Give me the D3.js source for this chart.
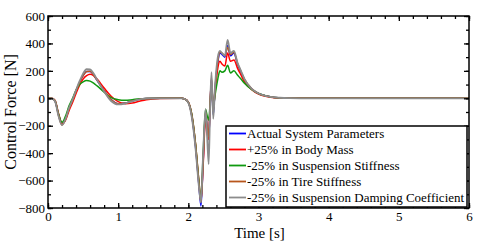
<!DOCTYPE html>
<html><head><meta charset="utf-8">
<script src="https://cdn.jsdelivr.net/npm/d3@7"></script>
<style>body{margin:0;background:#fff}svg{display:block}text{font-family:"Liberation Serif","Times New Roman",serif;fill:#000}</style>
</head><body>
<svg id="c" width="480" height="241"></svg>
<script>
const time = [0,0.05,0.1,0.15,0.2,0.25,0.3,0.35,0.4,0.45,0.5,0.55,0.6,0.65,0.7,0.8,0.9,1.0,1.1,1.2,1.3,1.4,1.6,1.9,1.95,2.0,2.05,2.1,2.15,2.18,2.21,2.245,2.27,2.29,2.31,2.33,2.355,2.38,2.42,2.45,2.48,2.52,2.56,2.6,2.65,2.7,2.75,2.8,2.9,3.0,3.1,3.2,3.3,3.45,3.6,3.75,6];
const actual = [0,0,-20,-120,-185,-150,-75,-15,55,115,165,195,195,170,130,55,-10,-40,-35,-20,-8,-2,0,0,-5,-30,-130,-340,-630,-785,-480,-110,-220,-300,-60,140,-120,60,260,330,320,300,385,310,330,250,190,135,70,35,18,8,4,1,0,0,0];
const bodyMass = [0,0,-15,-110,-185,-160,-90,-30,35,95,140,165,175,165,140,75,15,-25,-40,-35,-22,-10,-2,0,-5,-28,-120,-320,-600,-750,-500,-150,-260,-300,-40,120,-80,40,220,270,250,235,330,270,280,220,170,120,65,30,15,6,3,1,0,0,0];
const suspStiff = [0,0,-18,-115,-175,-130,-55,0,60,100,120,130,125,110,90,45,5,-10,-15,-10,-4,-1,0,0,-5,-30,-120,-320,-600,-740,-420,-80,-130,-160,-40,90,-60,20,140,200,190,200,240,185,200,170,140,110,65,35,18,8,4,1,0,0,0];
const tireStiff = [0,0,-20,-125,-195,-155,-75,-15,55,115,165,195,198,170,130,55,-10,-40,-35,-20,-8,-2,0,0,-5,-30,-130,-330,-620,-760,-470,-100,-210,-280,-50,150,-100,70,270,335,330,310,370,320,335,255,195,140,72,36,18,8,4,1,0,0,0];
const damping = [0,0,-22,-130,-195,-150,-70,-10,60,125,180,212,210,180,135,50,-20,-45,-38,-22,-8,-2,0,0,-5,-32,-140,-350,-640,-760,-420,-80,-300,-480,-80,190,-150,80,300,345,330,310,425,330,345,260,200,140,70,35,18,8,4,1,0,0,0];
const seriesNames = ["Actual System Parameters","+25% in Body Mass","-25% in Suspension Stiffness","-25% in Tire Stiffness","-25% in Suspension Damping Coefficient"];
const seriesValues = [actual, bodyMass, suspStiff, tireStiff, damping];
const colors = ["#0000ff","#ff0000","#109a10","#b8561c","#8c8c8c"];
const xTicks = [0,1,2,3,4,5,6];
const yTicks = [600,400,200,0,-200,-400,-600,-800];

const svg = d3.select("#c");
const L=48, R=469, T=16, B=208;
const x = d3.scaleLinear().domain([0,6]).range([L,R]);
const y = d3.scaleLinear().domain([-800,600]).range([B,T]);

const g = svg.append("g");
svg.append("clipPath").attr("id","cp").append("rect").attr("x",L).attr("y",T).attr("width",R-L).attr("height",B-T);
const line = d3.line().x((d,i)=>x(time[i])).y(d=>y(d)).curve(d3.curveMonotoneX);
seriesValues.forEach((vals,k)=>{
  g.append("path").datum(vals).attr("d",line).attr("fill","none")
   .attr("stroke",colors[k]).attr("stroke-width",k===4?1.8:1.5).attr("clip-path","url(#cp)");
});

const minorX = d3.range(0,6.001,0.2), minorY = d3.range(-800,601,100);
function addAxis(axisGen, tr){ return svg.append("g").attr("transform",tr).call(axisGen); }
const ax = [
  addAxis(d3.axisBottom(x).tickValues(minorX).tickSize(-3).tickFormat(""), `translate(0,${B})`),
  addAxis(d3.axisBottom(x).tickValues(xTicks).tickSize(-5).tickPadding(4).tickFormat(d3.format("d")), `translate(0,${B})`),
  addAxis(d3.axisTop(x).tickValues(minorX).tickSize(-3).tickFormat(""), `translate(0,${T})`),
  addAxis(d3.axisTop(x).tickValues(xTicks).tickSize(-5).tickFormat(""), `translate(0,${T})`),
  addAxis(d3.axisLeft(y).tickValues(minorY).tickSize(-3).tickFormat(""), `translate(${L},0)`),
  addAxis(d3.axisLeft(y).tickValues(yTicks).tickSize(-5).tickPadding(3).tickFormat(d3.format("d")), `translate(${L},0)`),
  addAxis(d3.axisRight(y).tickValues(minorY).tickSize(-3).tickFormat(""), `translate(${R},0)`),
  addAxis(d3.axisRight(y).tickValues(yTicks).tickSize(-5).tickFormat(""), `translate(${R},0)`)
];
ax.forEach(a=>{a.select(".domain").remove(); a.attr("font-family",null); a.selectAll("line").attr("stroke","#000").attr("stroke-width",1.3);
  a.selectAll("text").style("font-family","'Liberation Serif', serif").style("font-size","13px").attr("fill","#000");});
svg.append("rect").attr("x",L).attr("y",T).attr("width",R-L).attr("height",B-T).attr("fill","none").attr("stroke","#000").attr("stroke-width",1.5);

svg.append("text").attr("x",(L+R)/2+1).attr("y",238).attr("text-anchor","middle").style("font-size","15px").text("Time [s]");
svg.append("text").attr("transform",`translate(16,${(T+B)/2}) rotate(-90)`).attr("text-anchor","middle").style("font-size","16px").text("Control Force [N]");

const lg = svg.append("g");
lg.append("rect").attr("x",226).attr("y",126).attr("width",241).attr("height",81).attr("fill","#fff").attr("stroke","#000").attr("stroke-width",1.5);
seriesNames.forEach((n,k)=>{
  const yy = 133.5 + k*16;
  lg.append("line").attr("x1",229).attr("x2",246).attr("y1",yy).attr("y2",yy).attr("stroke",colors[k]).attr("stroke-width",1.8);
  lg.append("text").attr("x",247).attr("y",yy+4.5).style("font-size","13px").text(n);
});
</script>
</body></html>
